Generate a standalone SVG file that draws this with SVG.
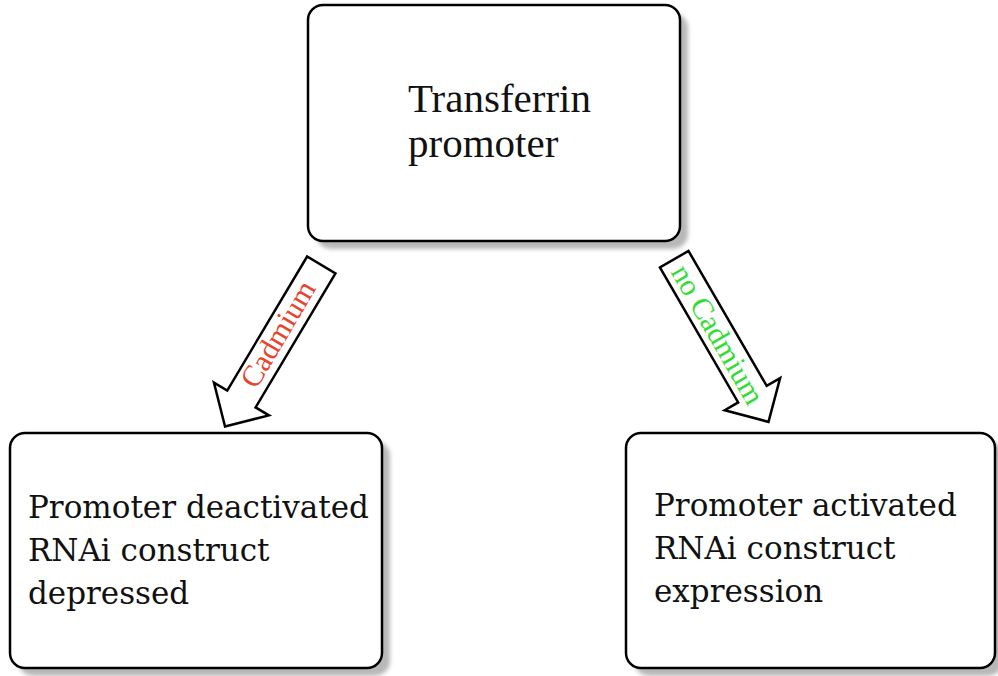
<svg xmlns="http://www.w3.org/2000/svg" width="998" height="676" viewBox="0 0 998 676">
<style>
.box{fill:#fff;stroke:#000;stroke-width:2.5}
.shadow{fill:#b8b8b8;filter:url(#blur)}
.t1{font-family:"Liberation Serif","Times New Roman",serif;font-size:41px;fill:#111}
.t2{font-family:"DejaVu Serif",serif;font-size:31px;fill:#111}
.arrow{fill:#fff;stroke:#000;stroke-width:2.5;stroke-linejoin:miter}
.lbl{font-family:"Liberation Serif","Times New Roman",serif;font-size:30px;text-anchor:middle}
</style>
<defs>
<filter id="blur" x="-10%" y="-10%" width="120%" height="120%"><feGaussianBlur stdDeviation="2"/></filter>
<polygon id="blk" points="0,-16.5 156,-16.5 156,-32 188,0 156,32 156,16.5 0,16.5"/>
</defs>
<rect width="998" height="676" fill="#fff"/>
<g id="top">
<rect class="shadow" x="316" y="13" width="372" height="236" rx="15"/>
<rect class="box" x="308" y="5" width="372" height="236" rx="15"/>
<text class="t1" x="408" y="112">Transferrin</text>
<text class="t1" x="408" y="157">promoter</text>
</g>
<g id="left">
<rect class="shadow" x="18" y="441" width="372" height="235" rx="15"/>
<rect class="box" x="10" y="433" width="372" height="235" rx="15"/>
<text class="t2" x="28" y="518">Promoter deactivated</text>
<text class="t2" x="28" y="561">RNAi construct</text>
<text class="t2" x="28" y="604">depressed</text>
</g>
<g id="right">
<rect class="shadow" x="634" y="441" width="369" height="235" rx="15"/>
<rect class="box" x="626" y="433" width="369" height="235" rx="15"/>
<text class="t2" x="654" y="516">Promoter activated</text>
<text class="t2" x="654" y="559">RNAi construct</text>
<text class="t2" x="654" y="602">expression</text>
</g>
<g id="connectors">
<use href="#blk" class="arrow" transform="translate(321.3,265) rotate(120.8)"/>
<text class="lbl" fill="#e8452f" transform="translate(279.6,335) rotate(-59.2)" dy="8">Cadmium</text>
<use href="#blk" class="arrow" transform="translate(674.2,259.2) rotate(59.9)"/>
<text class="lbl" fill="#33dd33" transform="translate(717,335) rotate(59.9)" dy="9">no Cadmium</text>
</g>
</svg>
